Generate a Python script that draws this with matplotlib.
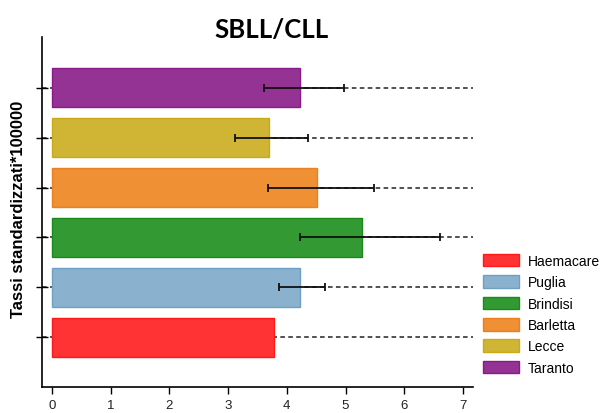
import numpy as np
import matplotlib.pyplot as plt

plt.rcParams['font.family'] = ['Liberation Sans', 'DejaVu Sans']

# dati
regioni = ['Haemacare', 'Puglia', 'Brindisi', 'Barletta', 'Lecce', 'Taranto']
tassi = [3.78, 4.23, 5.28, 4.51, 3.69, 4.22]
ic_inf = [np.nan, 3.87, 4.22, 3.68, 3.12, 3.61]
ic_sup = [np.nan, 4.65, 6.60, 5.49, 4.36, 4.97]

colori = ['#ff3333', '#8ab1ce', '#339933', '#ee9033', '#cfb533', '#953395']
bordi = ['#ff1a1a', '#6f9fc4', '#1a8a1a', '#eb8020', '#c8aa1a', '#8a1a8a']

fig = plt.figure(figsize=(6.04, 4.14), dpi=100)
ax = fig.add_axes([42/604, 26/414, 431/604, 350/414])

y = np.arange(len(regioni))

# linee tratteggiate dietro le barre
for yi in y:
    ax.axhline(yi, color='#222222', lw=1.1, ls=(0, (3, 2.2)), zorder=0)

for i in range(len(regioni)):
    ax.barh(y[i], tassi[i], height=0.78, color=colori[i], edgecolor=bordi[i],
            linewidth=1.0, label=regioni[i], zorder=2)

t = np.array(tassi)
err = np.array([t - np.array(ic_inf), np.array(ic_sup) - t])
ax.errorbar(t, y, xerr=err, fmt='none', ecolor='#111111', elinewidth=1.3,
            capsize=3, capthick=1.3, zorder=3)

ax.set_xlim(-0.17, 7.17)
ax.set_ylim(-1.0, 6.02)
ax.set_xticks(range(8))
ax.set_yticks(y)
ax.set_yticklabels([])
ax.tick_params(axis='y', direction='inout', length=9, width=1.0)
ax.tick_params(axis='x', direction='out', length=5, width=1.0, labelsize=9.5,
               labelcolor='#222222', pad=4)
ax.spines['top'].set_visible(False)
ax.spines['right'].set_visible(False)
ax.spines['left'].set_linewidth(1.2)
ax.spines['bottom'].set_linewidth(1.2)

ax.set_ylabel('Tassi standardizzati*100000', fontsize=12, fontweight='bold')
ax.yaxis.set_label_coords(-0.038, 0.509)

fig.text(272/604, 1 - 30/414, 'SBLL/CLL', fontsize=18.5, fontweight='bold',
         family=['Lato', 'DejaVu Sans'], ha='center', va='center')

fig.legend(loc='upper left', bbox_to_anchor=(483/604, 1 - 255/414),
           frameon=False, fontsize=10, handlelength=2.6, handleheight=1.0,
           labelspacing=0.53, handletextpad=0.6, borderpad=0, borderaxespad=0)

fig.savefig('out.png', dpi=100)
